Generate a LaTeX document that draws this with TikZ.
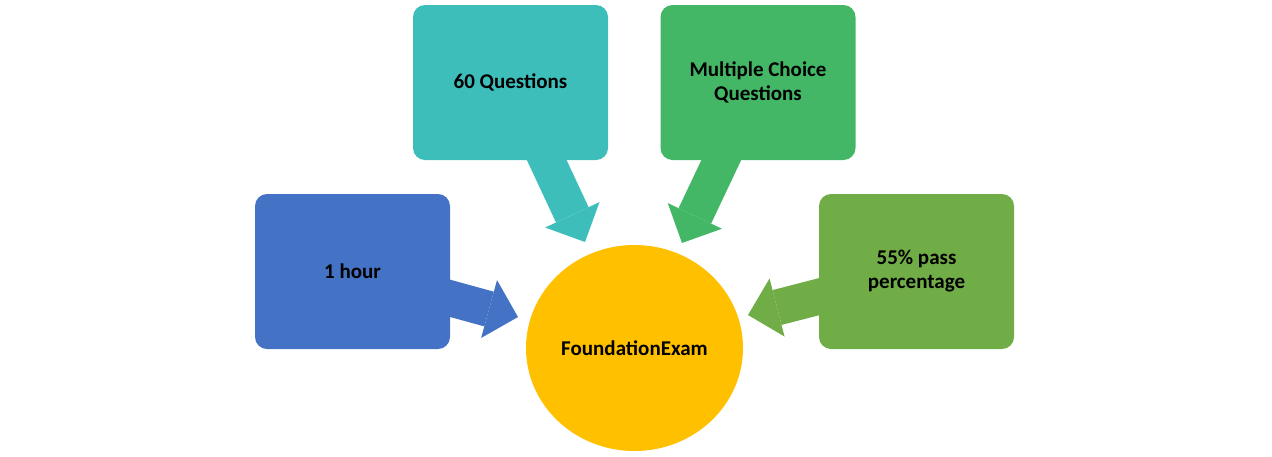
\documentclass[tikz,border=0pt]{standalone}
\usepackage{fontspec}
\setmainfont{Carlito}
\usetikzlibrary{arrows.meta,backgrounds,shapes.geometric}
\definecolor{tealc}{HTML}{3EBEBA}
\definecolor{greenc}{HTML}{43B766}
\definecolor{bluec}{HTML}{4472C4}
\definecolor{olivec}{HTML}{70AD47}
\definecolor{goldc}{HTML}{FFC000}
\begin{document}
\begin{tikzpicture}[x=1pt,y=-1pt,
  box/.style={draw=none, rounded corners=12pt, minimum width=195pt, minimum height=155pt,
    inner sep=0pt, align=center, font=\bfseries\fontsize{21}{24}\selectfont, text=black},
  blockarrow/.style={line width=36pt, -{Triangle[width=60pt,length=30pt,line width=0pt]}}]
\useasboundingbox (0,0) rectangle (1272,456);
\node[box, fill=tealc] (q) at (510.5,82.5) {60 Questions};
\node[box, fill=greenc] (m) at (758,82.5) {Multiple Choice\\Questions};
\node[box, fill=bluec] (h) at (352.5,271.5) {1 hour};
\node[box, fill=olivec] (p) at (916.5,271.5) {55\% pass\\percentage};
\node[ellipse, fill=goldc, minimum width=217pt, minimum height=206pt, inner sep=0pt,
  font=\bfseries\fontsize{21}{24}\selectfont] (exam) at (634.5,348) {FoundationExam};
\coordinate (tq) at (585,242);
\coordinate (tm) at (682,243);
\coordinate (th) at (518,317);
\coordinate (tp) at (748,315);
\begin{scope}[on background layer]
\draw[blockarrow, tealc] (q.center) -- (tq);
\draw[blockarrow, greenc] (m.center) -- (tm);
\draw[blockarrow, bluec] (h.center) -- (th);
\draw[blockarrow, olivec] (p.center) -- (tp);
\end{scope}
\end{tikzpicture}
\end{document}
